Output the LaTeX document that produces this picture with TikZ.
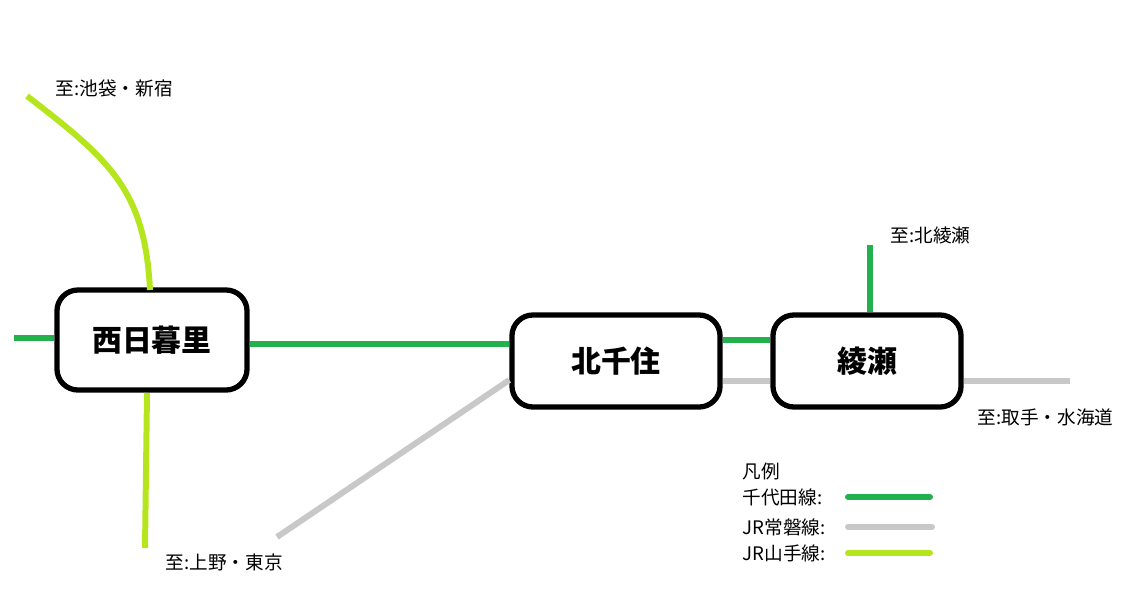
\documentclass[tikz,border=0pt]{standalone}
\usepackage{fontspec}
\setmainfont{Noto Sans CJK JP}
\usetikzlibrary{positioning}
\definecolor{chiyoda}{RGB}{34,177,76}
\definecolor{joban}{RGB}{200,200,200}
\definecolor{yamanote}{RGB}{181,230,29}
\begin{document}
\begin{tikzpicture}[x=0.01cm,y=-0.01cm,
  station/.style={rectangle,rounded corners=6pt,draw=black,line width=1.5pt,fill=white,font=\fontsize{8.5}{10}\selectfont\bfseries,inner sep=0pt},
  label/.style={anchor=west,font=\fontsize{5.3}{6}\selectfont,inner sep=0pt},
  chiyodaline/.style={chiyoda,line width=1.7pt},
  jobanline/.style={joban,line width=1.7pt},
  yamanoteline/.style={yamanote,line width=1.7pt}]
\useasboundingbox (0,0) rectangle (1139,600);

\node[station,minimum width=1.9cm,minimum height=1.0cm] (nishinippori) at (152,340) {西日暮里};
\node[station,minimum width=2.08cm,minimum height=0.92cm] (kitasenju) at (616,361) {北千住};
\node[station,minimum width=1.88cm,minimum height=0.92cm] (ayase) at (867,361) {綾瀬};

\coordinate (west) at (14,338);
\coordinate (ikebukuro) at (27,96);
\coordinate (ueno) at (145,548);
\coordinate (kitaayase) at (870,245);
\coordinate (toride) at (1070,381);

% Chiyoda line
\draw[chiyodaline] (west) -- (nishinippori.west |- west);
\draw[chiyodaline] (nishinippori.east |- 0,344) -- (kitasenju.west |- 0,344);
\draw[chiyodaline] (kitasenju.east |- 0,340) -- (ayase.west |- 0,340);
\draw[chiyodaline] (kitaayase) -- (kitaayase |- ayase.north);
% Joban line
\draw[jobanline] (kitasenju.west |- 0,380) -- (277,537);
\draw[jobanline] (kitasenju.east |- 0,381) -- (ayase.west |- 0,381);
\draw[jobanline] (ayase.east |- toride) -- (toride);
% Yamanote line
\draw[yamanoteline] (ikebukuro) .. controls (110,160) and (145,190) .. (150,290);
\draw[yamanoteline] (147,393) -- (ueno);

\node[label] (l1) at (55,88) {至:池袋・新宿};
\node[label] (l2) at (890,235) {至:北綾瀬};
\node[label] (l3) at (977,417) {至:取手・水海道};
\node[label] (l4) at (165,562) {至:上野・東京};

% legend
\node[label] (hanrei) at (742,471) {凡例};
\node[label] (lg1) at (742,497) {千代田線:};
\node[label] (lg2) at (742,527) {JR常磐線:};
\node[label] (lg3) at (742,553) {JR山手線:};
\draw[chiyodaline,line cap=round] (848,497) -- (930,497);
\draw[jobanline,line cap=round] (848,527) -- (932,527);
\draw[yamanoteline,line cap=round] (848,553) -- (930,553);
\end{tikzpicture}
\end{document}
